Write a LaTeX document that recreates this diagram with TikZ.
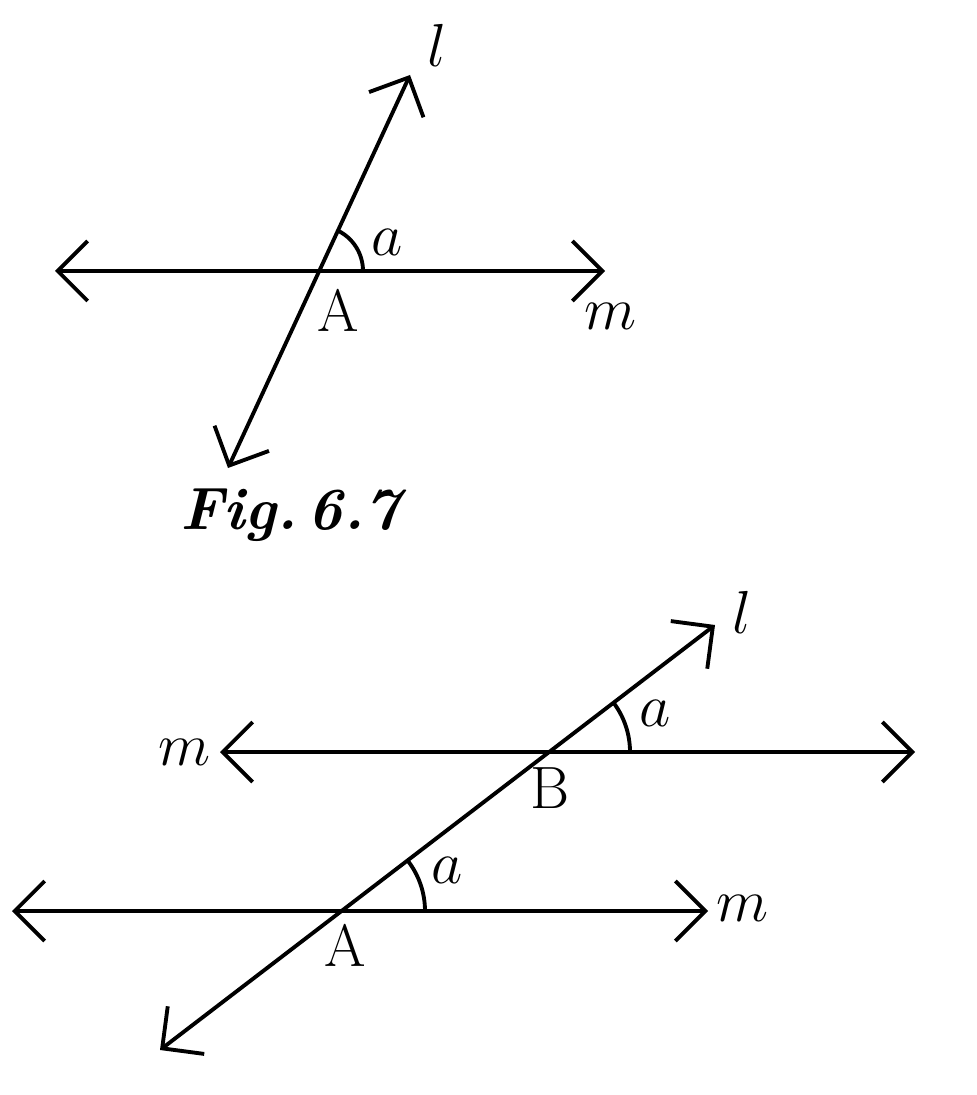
\documentclass[tikz,border=0pt]{standalone}
\usetikzlibrary{arrows.meta}
\begin{document}
\begin{tikzpicture}[line width=1.1pt,
    line/.style={{Straight Barb[length=3mm,width=6mm]}-{Straight Barb[length=3mm,width=6mm]}},
    lbl/.style={font=\fontsize{17}{20}\selectfont}]
    \useasboundingbox (0,0) rectangle (9.76,-10.95);
    % Fig. 6.7
    \coordinate (A1) at (3.18,-2.71);
    \coordinate (ml) at (0.55,-2.71);
    \coordinate (mr) at (6.05,-2.71);
    \coordinate (lb) at (2.28,-4.68);
    \coordinate (lt) at (4.10,-0.75);
    \draw[line] (ml) -- (mr);
    \draw[line] (lb) -- (lt);
    \draw (A1) ++(0.45,0) arc (0:65.2:0.45);
    \node[lbl] (a1) at (3.87,-2.42) {$a$};
    \node[lbl] (A1l) at (3.38,-3.1) {A};
    \node[lbl] (m1) at (6.1,-3.16) {$m$};
    \node[lbl] (l1) at (4.37,-0.45) {$l$};
    \node[lbl] (cap) at (2.9,-5.15) {\bfseries\itshape Fig.\,6.7};
    % second figure
    \coordinate (B) at (5.48,-7.52);
    \coordinate (A2) at (3.43,-9.11);
    \draw[line] (2.20,-7.52) -- (9.15,-7.52);
    \draw[line] (0.12,-9.11) -- (7.08,-9.11);
    \draw[line] (1.60,-10.50) -- (7.15,-6.25);
    \draw (B) ++(0.82,0) arc (0:37.4:0.82);
    \draw (A2) ++(0.82,0) arc (0:37.4:0.82);
    \node[lbl] (a2) at (6.55,-7.13) {$a$};
    \node[lbl] (a3) at (4.47,-8.70) {$a$};
    \node[lbl] (Bl) at (5.50,-7.88) {B};
    \node[lbl] (A2l) at (3.45,-9.45) {A};
    \node[lbl] (m2) at (1.85,-7.52) {$m$};
    \node[lbl] (m3) at (7.42,-9.08) {$m$};
    \node[lbl] (l2) at (7.42,-6.12) {$l$};
\end{tikzpicture}
\end{document}
